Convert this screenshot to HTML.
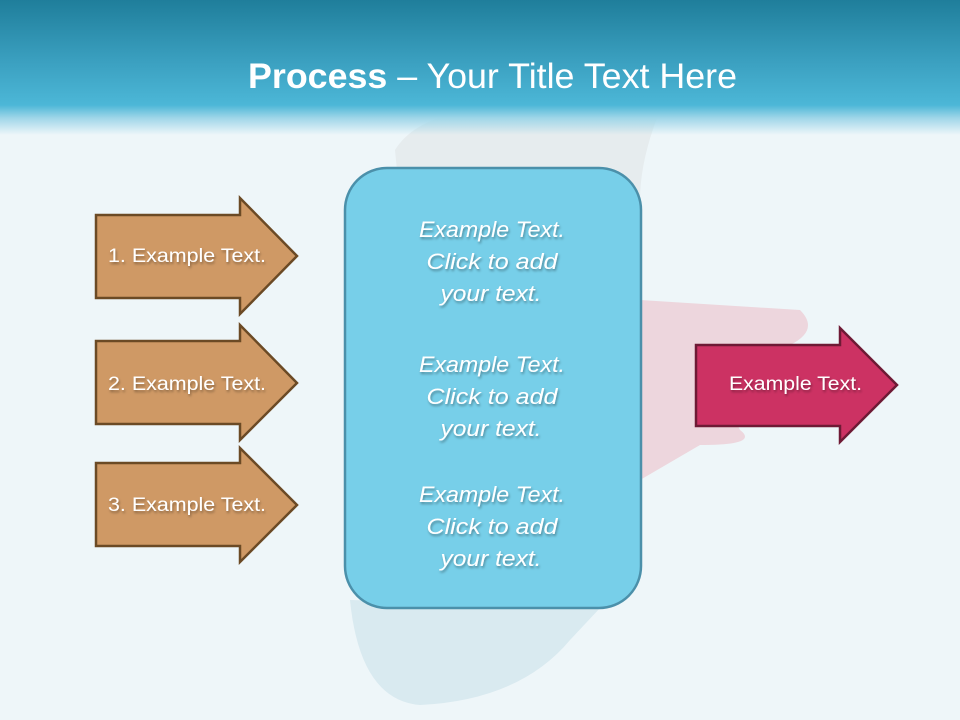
<!DOCTYPE html>
<html><head><meta charset="utf-8"><style>
html,body{margin:0;padding:0}
body{width:960px;height:720px;overflow:hidden;position:relative;background:#eef6f9;font-family:"Liberation Sans",sans-serif}
.hdr{position:absolute;left:0;top:0;width:960px;height:135px;background:linear-gradient(#1f7e9b 0px,#3a9fbf 60px,#4cb7d7 105px,#9fd6e8 118px,rgba(238,246,249,0) 135px)}
svg{position:absolute;left:0;top:0}
.t{fill:#fff;font-family:"Liberation Sans",sans-serif;font-size:19px;}
.c{fill:#fff;font-family:"Liberation Sans",sans-serif;font-size:22px;font-style:italic;text-anchor:middle}
</style></head><body>
<svg width="960" height="720">
<defs><filter id="sh"><feDropShadow dx="1" dy="2" stdDeviation="1.2" flood-color="#000" flood-opacity="0.35"/></filter></defs>
<path d="M395 150 Q420 110 500 110 L660 110 Q640 160 640 200 L400 200 Z" fill="#dde1e3" opacity="0.5"/>
<path d="M640 300 L800 310 Q820 330 790 345 L700 350 L740 430 Q760 445 700 445 L640 480 Z" fill="#eab0bb" opacity="0.45"/>
<path d="M350 600 Q360 700 420 705 Q520 700 570 640 L600 608 Z" fill="#c3dee8" opacity="0.5"/>
<rect x="345" y="168" width="296" height="440" rx="42" fill="#77cfe9" stroke="#4b90aa" stroke-width="2.5"/>
<g stroke="#6b4a25" stroke-width="2.5" fill="#cf9965">
<polygon points="96,215 240,215 240,198 297,256 240,314 240,298 96,298"/>
<polygon points="96,341 240,341 240,325 297,383 240,440 240,424 96,424"/>
<polygon points="96,463 240,463 240,448 297,505 240,562 240,546 96,546"/>
</g>
<polygon points="696,345 840,345 840,328 897,385 840,442 840,426 696,426" fill="#cc3263" stroke="#6e1a35" stroke-width="2.5"/>
<g filter="url(#sh)">
<text class="t" x="108" y="262" textLength="158" lengthAdjust="spacingAndGlyphs">1. Example Text.</text>
<text class="t" x="108" y="390" textLength="158" lengthAdjust="spacingAndGlyphs">2. Example Text.</text>
<text class="t" x="108" y="511" textLength="158" lengthAdjust="spacingAndGlyphs">3. Example Text.</text>
<text class="t" x="729" y="390" textLength="133" lengthAdjust="spacingAndGlyphs">Example Text.</text>
<text class="c" x="492" y="237" textLength="146" lengthAdjust="spacingAndGlyphs">Example Text.</text>
<text class="c" x="492" y="269" textLength="131" lengthAdjust="spacingAndGlyphs">Click  to add</text>
<text class="c" x="491" y="301" textLength="101" lengthAdjust="spacingAndGlyphs">your text.</text>
<text class="c" x="492" y="372" textLength="146" lengthAdjust="spacingAndGlyphs">Example Text.</text>
<text class="c" x="492" y="404" textLength="131" lengthAdjust="spacingAndGlyphs">Click  to add</text>
<text class="c" x="491" y="436" textLength="101" lengthAdjust="spacingAndGlyphs">your text.</text>
<text class="c" x="492" y="502" textLength="146" lengthAdjust="spacingAndGlyphs">Example Text.</text>
<text class="c" x="492" y="534" textLength="131" lengthAdjust="spacingAndGlyphs">Click  to add</text>
<text class="c" x="491" y="566" textLength="101" lengthAdjust="spacingAndGlyphs">your text.</text>
</g>
</svg>
<div class="hdr"></div>
<svg width="960" height="140" style="z-index:2"><text x="248" y="88" textLength="489" lengthAdjust="spacingAndGlyphs" fill="#fff" font-family="Liberation Sans, sans-serif" font-size="35"><tspan font-weight="bold">Process</tspan> – Your Title Text Here</text></svg>
</body></html>
